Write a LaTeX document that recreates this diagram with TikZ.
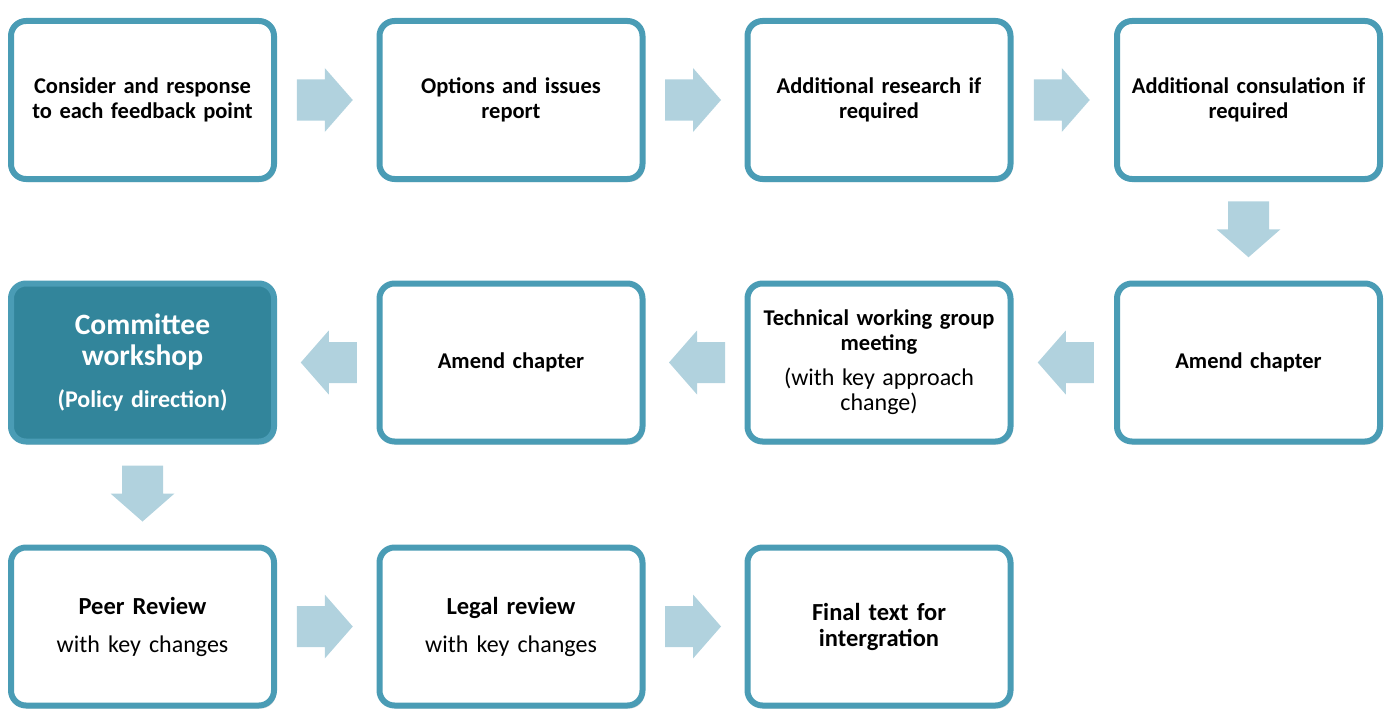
\documentclass[tikz,border=0pt]{standalone}
\usepackage{fontspec}
\setmainfont{Carlito}
\usetikzlibrary{shadows,calc}
\definecolor{bord}{RGB}{74,156,181}
\definecolor{darkfill}{RGB}{50,133,155}
\definecolor{arr}{RGB}{177,210,222}
\tikzset{
  stepbox/.style={draw=bord, line width=6pt, rounded corners=15pt, fill=white,
    minimum width=263pt, minimum height=158pt, text width=250pt, align=center,
    inner sep=0pt, font=\bfseries\fontsize{22.5}{25}\selectfont,
    drop shadow={opacity=0.3, shadow xshift=2pt, shadow yshift=-3pt}},
  bigbox/.style={stepbox, font=\bfseries\fontsize{24.5}{26}\selectfont},
  darkbox/.style={stepbox, fill=darkfill, text=white},
  blk/.style={fill=arr}
}
\newcommand\regtext{\mdseries\fontsize{24}{25}\selectfont}
\newcommand\blockarr[2]{%
  \fill[blk, shift={#1}, rotate=#2] (-28,-20.5) -- (0,-20.5) -- (0,-32) -- (28,0)
    -- (0,32) -- (0,20.5) -- (-28,20.5) -- cycle;}
\begin{document}
\begin{tikzpicture}[x=1pt,y=-1pt]
\useasboundingbox (0,0) rectangle (1390,725);
% row 1
\node[stepbox] (b1) at (142.5,100) {Consider and response\\to each feedback point};
\node[stepbox] (b2) at (511,100) {Options and issues\\report};
\node[stepbox] (b3) at (879,100) {Additional research if\\required};
\node[stepbox] (b4) at (1248.5,100) {Additional consulation if\\required};
% row 2
\node[stepbox] (b8) at (1248.5,362.5) {Amend chapter};
\node[stepbox] (b7) at (879,362.5) {Technical working group\\meeting\par\vspace{10pt}{\regtext (with key approach\\change)\par}};
\node[stepbox] (b6) at (511,362.5) {Amend chapter};
\node[darkbox] (b5) at (142.5,362.5) {{\fontsize{29.5}{31}\selectfont Committee\\workshop\par}\vspace{17pt}{\fontsize{24}{25}\selectfont (Policy direction)\par}};
% row 3
\node[bigbox] (b9) at (142.5,626.5) {Peer Review\par\vspace{13pt}{\regtext with key changes\par}};
\node[bigbox] (b10) at (511,626.5) {Legal review\par\vspace{13pt}{\regtext with key changes\par}};
\node[bigbox] (b11) at (879,626.5) {Final text for\\intergration};
% arrows
\blockarr{($(b1.east)!0.5!(b2.west)+(-2,0)$)}{0}
\blockarr{($(b2.east)!0.5!(b3.west)+(-2,0)$)}{0}
\blockarr{($(b3.east)!0.5!(b4.west)+(-2,0)$)}{0}
\blockarr{($(b4.south)!0.5!(b8.north)+(0,-2)$)}{-90}
\blockarr{($(b8.west)!0.5!(b7.east)+(2,0)$)}{180}
\blockarr{($(b7.west)!0.5!(b6.east)+(2,0)$)}{180}
\blockarr{($(b6.west)!0.5!(b5.east)+(2,0)$)}{180}
\blockarr{($(b5.south)!0.5!(b9.north)+(0,-1)$)}{-90}
\blockarr{($(b9.east)!0.5!(b10.west)+(-2,0)$)}{0}
\blockarr{($(b10.east)!0.5!(b11.west)+(-2,0)$)}{0}
\end{tikzpicture}
\end{document}
